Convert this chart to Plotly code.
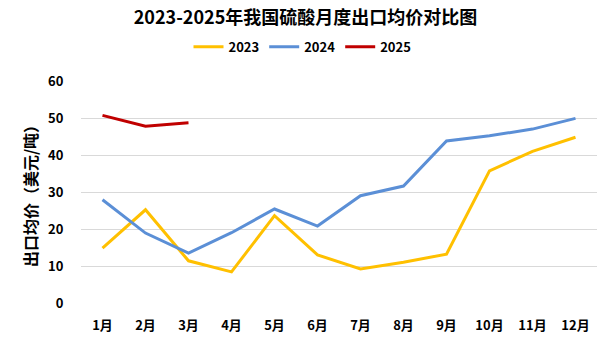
import plotly.graph_objects as go

months = ["1月", "2月", "3月", "4月", "5月", "6月", "7月", "8月", "9月", "10月", "11月", "12月"]
price_2023 = [14.8, 25.2, 11.4, 8.4, 23.6, 13.0, 9.2, 11.0, 13.2, 35.7, 41.0, 44.8]
price_2024 = [27.9, 18.9, 13.5, 19.0, 25.4, 20.8, 29.0, 31.6, 43.8, 45.2, 47.0, 49.9]
price_2025 = [50.7, 47.8, 48.7]

series = [
    ("2023", price_2023, "#FFC000"),
    ("2024", price_2024, "#5B8FD6"),
    ("2025", price_2025, "#C00000"),
]

FONT = "Noto Sans CJK SC"

fig = go.Figure()
for name, values, color in series:
    fig.add_trace(go.Scatter(
        x=months[:len(values)], y=values, name=name, mode="lines",
        line=dict(color=color, width=3),
    ))

fig.update_layout(
    width=605, height=340,
    margin=dict(l=81, r=8, t=81, b=37, autoexpand=False),
    plot_bgcolor="white", paper_bgcolor="white",
    font=dict(family=FONT, color="#000000"),
    title=dict(
        text="<b>2023-2025年我国硫酸月度出口均价对比图</b>",
        x=0.505, xanchor="center", xref="container",
        yref="container", y=0.947, yanchor="middle",
        font=dict(size=18, family=FONT, color="#000000"),
    ),
    legend=dict(
        orientation="h", x=0.5, xanchor="center", xref="container",
        yref="container", y=0.862, yanchor="middle",
        font=dict(size=13, family=FONT, color="#000000", weight="bold"),
        itemwidth=30, tracegroupgap=0,
    ),
    showlegend=True,
)

fig.update_xaxes(
    type="category", categoryorder="array", categoryarray=months,
    range=[-0.5, 11.5], showgrid=False, showline=False, zeroline=False,
    ticks="outside", ticklen=10, tickcolor="rgba(0,0,0,0)",
    tickfont=dict(size=13, family=FONT, color="#000000", weight="bold"),
)
fig.update_yaxes(
    range=[0, 60], dtick=10, showgrid=True, gridcolor="#D9D9D9", gridwidth=1,
    zeroline=False, showline=False,
    ticks="outside", ticklen=14, tickcolor="rgba(0,0,0,0)",
    tickfont=dict(size=13, family=FONT, color="#000000", weight="bold"),
    title=dict(text="出口均价（美元/吨）", standoff=6,
               font=dict(size=16, family=FONT, color="#000000", weight="bold")),
)

fig.write_html("out.html")
